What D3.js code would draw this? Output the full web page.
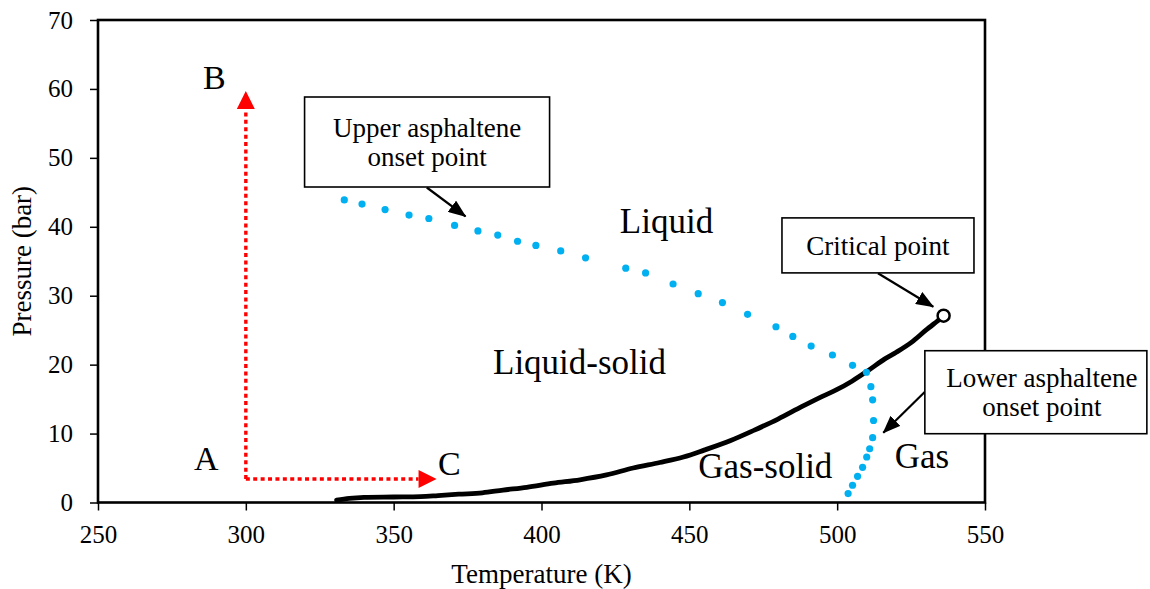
<!DOCTYPE html>
<html>
<head>
<meta charset="utf-8">
<script src="https://cdn.jsdelivr.net/npm/d3@7"></script>
<style>
  html, body { margin: 0; padding: 0; background: #fff; }
  svg { display: block; }
  text { font-family: "Liberation Serif", "Times New Roman", serif; fill: #000; }
</style>
</head>
<body>
<svg id="chart" width="1150" height="589"></svg>
<script>
// Asphaltene onset pressure (AOP) curves and bubble-point line of the oil
const xTicks = [250, 300, 350, 400, 450, 500, 550];
const yTicks = [0, 10, 20, 30, 40, 50, 60, 70];

// Upper onset branch followed by the lower onset branch (T in K, P in bar)
const onsetT = [333.3, 339.3, 347.1, 355.2, 361.9, 370.6, 378.5, 385.2, 391.9, 398.1,
                406.5, 414.9, 428.5, 435.2, 444.5, 453.0, 461.2, 469.7, 479.3, 485.0,
                491.2, 498.4, 505.2, 509.9, 511.4, 512.0, 512.3, 512.0, 511.0, 510.0,
                508.6, 506.9, 505.2, 503.7];
const onsetP = [43.9, 43.3, 42.5, 41.7, 41.2, 40.2, 39.4, 38.8, 37.9, 37.3,
                36.5, 35.5, 34.0, 33.3, 31.7, 30.3, 29.0, 27.3, 25.5, 24.1,
                22.7, 21.4, 19.9, 18.9, 16.8, 14.9, 11.9, 9.4, 7.8, 6.6,
                5.1, 3.8, 2.5, 1.3];

// Bubble-point (vapour pressure) line ending at the critical point
const bubbleT = [330.7, 335, 340, 350, 359, 365, 372, 380, 387, 395, 404, 413, 422,
                 431, 440, 448, 455, 464, 472, 480, 488, 495, 500, 505, 510, 516,
                 520, 525, 530, 535];
const bubbleP = [0.35, 0.6, 0.75, 0.8, 0.85, 1.0, 1.2, 1.4, 1.8, 2.2, 2.8, 3.3, 4.0,
                 5.0, 5.8, 6.6, 7.6, 9.0, 10.5, 12.1, 13.9, 15.4, 16.4, 17.6, 19.0, 20.8,
                 21.8, 23.2, 25.0, 26.7];
const criticalPoint = [536, 27.1];

// Process paths: A -> B (pressurisation) and A -> C (heating)
const pathStart = [300, 3.4];
const pathEnds = [[300, 59.7], [364.5, 3.4]];

const regionLabels = [
  { text: "Liquid", T: 426.5, P: 39.1 },
  { text: "Liquid-solid", T: 383.6, P: 18.7 },
  { text: "Gas-solid", T: 453.0, P: 3.5 },
  { text: "Gas", T: 519.5, P: 5.0 }
];
const pointLabels = [
  { text: "A", T: 282.5, P: 4.7 },
  { text: "B", T: 285.5, P: 60.0 },
  { text: "C", T: 365.0, P: 4.0 }
];
const callouts = [
  { lines: ["Upper asphaltene", "onset point"], T: 361.3, P: 52.3, w: 245, h: 90, dx: 0,
    from: [361.2, 45.7], to: [374.3, 41.5] },
  { lines: ["Critical point"], T: 513.8, P: 37.3, w: 192, h: 55, dx: 0,
    from: [513.8, 33.25], to: [532.5, 28.4] },
  { lines: ["Lower asphaltene", "onset point"], T: 567.2, P: 16.0, w: 222, h: 83, dx: 6,
    from: [529.7, 16.07], to: [515.6, 10.13] }
];

const svg = d3.select("#chart");
const x = d3.scaleLinear().domain([250, 550]).range([98, 985]);
const y = d3.scaleLinear().domain([0, 70]).range([502.5, 20]);

// markers
const defs = svg.append("defs");
defs.append("marker")
  .attr("id", "blackHead").attr("markerUnits", "userSpaceOnUse")
  .attr("viewBox", "0 0 18 14").attr("refX", 17).attr("refY", 7)
  .attr("markerWidth", 18).attr("markerHeight", 14).attr("orient", "auto")
  .append("path").attr("d", "M0,0 L18,7 L0,14 Z").attr("fill", "#000");

// axes
const xAxis = svg.append("g")
  .attr("transform", `translate(0,${y(0)})`)
  .call(d3.axisBottom(x).tickValues(xTicks).tickSize(8).tickSizeOuter(0).tickPadding(14));
const yAxis = svg.append("g")
  .attr("transform", `translate(${x(250)},0)`)
  .call(d3.axisLeft(y).tickValues(yTicks).tickSize(8).tickSizeOuter(0).tickPadding(17));
[xAxis, yAxis].forEach(g => {
  g.select(".domain").remove();
  g.selectAll(".tick line").attr("stroke", "#000").attr("stroke-width", 1.5);
  g.selectAll(".tick text")
    .attr("font-family", "Liberation Serif").attr("font-size", 25).attr("fill", "#222");
});
xAxis.selectAll(".tick text").attr("dy", "0.75em");

// plot frame
svg.append("rect")
  .attr("x", x(250)).attr("y", y(70))
  .attr("width", x(550) - x(250)).attr("height", y(0) - y(70))
  .attr("fill", "none").attr("stroke", "#000").attr("stroke-width", 2.6);

// axis titles
svg.append("text")
  .attr("x", (x(250) + x(550)) / 2).attr("y", 583)
  .attr("text-anchor", "middle").attr("font-size", 27).attr("fill", "#222")
  .text("Temperature (K)");
svg.append("text")
  .attr("transform", `translate(31,${(y(0) + y(70)) / 2}) rotate(-90)`)
  .attr("text-anchor", "middle").attr("font-size", 27).attr("fill", "#222")
  .text("Pressure (bar)");

// bubble-point line
const bubble = bubbleT.map((t, i) => [t, bubbleP[i]]);
bubble.push(criticalPoint);
svg.append("path")
  .datum(bubble)
  .attr("d", d3.line().x(d => x(d[0])).y(d => y(d[1])).curve(d3.curveCatmullRom))
  .attr("fill", "none").attr("stroke", "#000").attr("stroke-width", 4.8)
  .attr("stroke-linecap", "round").attr("stroke-linejoin", "round");

// critical point marker
svg.append("circle")
  .attr("cx", x(criticalPoint[0])).attr("cy", y(criticalPoint[1])).attr("r", 6)
  .attr("fill", "#fff").attr("stroke", "#000").attr("stroke-width", 2.5);

// asphaltene onset points
svg.append("g").selectAll("circle")
  .data(onsetT.map((t, i) => [t, onsetP[i]]))
  .join("circle")
  .attr("cx", d => x(d[0])).attr("cy", d => y(d[1])).attr("r", 3.6)
  .attr("fill", "#00b0f0");

// process paths (red dotted arrows)
const headLen = 18, headHalf = 9;
pathEnds.forEach(end => {
  const x0 = x(pathStart[0]), y0 = y(pathStart[1]);
  const x1 = x(end[0]), y1 = y(end[1]);
  const len = Math.hypot(x1 - x0, y1 - y0);
  const ux = (x1 - x0) / len, uy = (y1 - y0) / len;
  const bx = x1 - ux * headLen, by = y1 - uy * headLen;
  svg.append("line")
    .attr("x1", x0).attr("y1", y0).attr("x2", bx).attr("y2", by)
    .attr("stroke", "#ff0000").attr("stroke-width", 3.4)
    .attr("stroke-dasharray", "4,3.4");
  svg.append("path")
    .attr("d", `M${x1},${y1} L${bx - uy * headHalf},${by + ux * headHalf} L${bx + uy * headHalf},${by - ux * headHalf} Z`)
    .attr("fill", "#ff0000");
});

// region labels
svg.append("g").selectAll("text")
  .data(regionLabels).join("text")
  .attr("x", d => x(d.T)).attr("y", d => y(d.P))
  .attr("font-size", 35).text(d => d.text);
svg.append("g").selectAll("text")
  .data(pointLabels).join("text")
  .attr("x", d => x(d.T)).attr("y", d => y(d.P))
  .attr("font-size", 34).text(d => d.text);

// callouts with arrows
callouts.forEach(c => {
  const cx = x(c.T), cy = y(c.P);
  svg.append("line")
    .attr("x1", x(c.from[0])).attr("y1", y(c.from[1]))
    .attr("x2", x(c.to[0])).attr("y2", y(c.to[1]))
    .attr("stroke", "#000").attr("stroke-width", 2.2)
    .attr("marker-end", "url(#blackHead)");
  svg.append("rect")
    .attr("x", cx - c.w / 2).attr("y", cy - c.h / 2)
    .attr("width", c.w).attr("height", c.h)
    .attr("fill", "#fff").attr("stroke", "#000").attr("stroke-width", 1.6);
  const lh = 28.5;
  c.lines.forEach((ln, i) => {
    svg.append("text")
      .attr("x", cx + c.dx)
      .attr("y", cy + (i - (c.lines.length - 1) / 2) * lh)
      .attr("dy", "0.35em")
      .attr("text-anchor", "middle").attr("font-size", 27)
      .text(ln);
  });
});
</script>
</body>
</html>
